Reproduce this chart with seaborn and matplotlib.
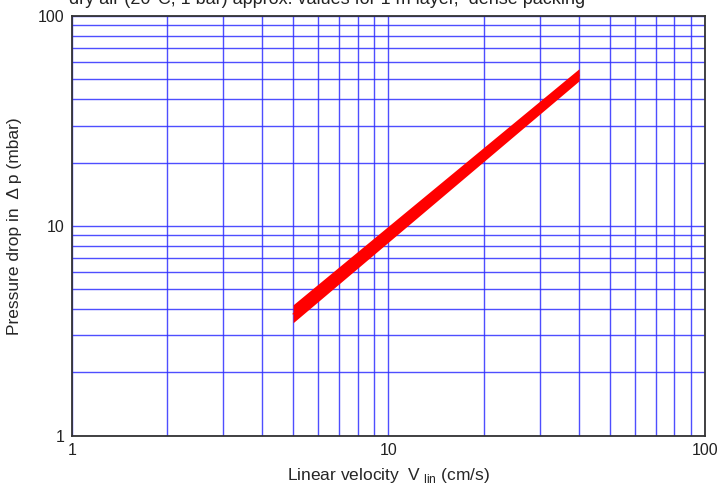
import numpy as np
import matplotlib
matplotlib.use("Agg")
import matplotlib.pyplot as plt
from matplotlib.ticker import LogLocator, NullFormatter, FixedLocator, FixedFormatter
import seaborn as sns

# Pressure drop band
velocity = [5, 40]
dp_upper = [4.2, 56]
dp_lower = [3.45, 49]
dp_center = [3.8, 52]

x_ticks = [1, 10, 100]
x_labels = ["1", "10", "100"]
y_ticks = [1, 10, 100]
y_labels = ["1", "10", "100"]

sns.set_style("white")
plt.rcParams["font.family"] = ["Liberation Sans", "DejaVu Sans"]

fig = plt.figure(figsize=(7.18, 4.95), dpi=100)
ax = fig.add_axes([0.1, 0.12, 0.882, 0.848])

ax.set_xscale("log")
ax.set_yscale("log")
ax.set_xlim(1, 100)
ax.set_ylim(1, 100)

grid_color = "#2f2fff"
ax.xaxis.set_major_locator(FixedLocator(x_ticks))
ax.yaxis.set_major_locator(FixedLocator(y_ticks))
ax.xaxis.set_major_formatter(FixedFormatter(x_labels))
ax.yaxis.set_major_formatter(FixedFormatter(y_labels))
ax.xaxis.set_minor_locator(LogLocator(base=10, subs=np.arange(2, 10)))
ax.yaxis.set_minor_locator(LogLocator(base=10, subs=np.arange(2, 10)))
ax.xaxis.set_minor_formatter(NullFormatter())
ax.yaxis.set_minor_formatter(NullFormatter())
ax.grid(True, which="both", color=grid_color, linewidth=1.0, alpha=0.85)
ax.tick_params(which="both", length=0, labelsize=11.5, colors="#222222", pad=5)

ax.fill_between(velocity, dp_lower, dp_upper, color="#ff0000", linewidth=0, zorder=3)
sns.lineplot(x=velocity, y=dp_center, color="#ff0000", linewidth=1, ax=ax, zorder=3)

for s in ax.spines.values():
    s.set_color("#333333")
    s.set_linewidth(1.3)
    s.set_zorder(4)

ax.set_xlabel(r"Linear velocity  V$_{\ \mathregular{lin}}$ (cm/s)", fontsize=12.5, labelpad=6)
ax.set_ylabel("Pressure drop in  \u0394 p (mbar)", fontsize=12.5, labelpad=12)

fig.text(0.455, 1 - 4.5 / 495, "dry air (20\u00b0C, 1 bar) approx. values for 1 m layer,  dense packing",
         ha="center", va="baseline", fontsize=13, color="#222222")

fig.savefig("out.png", dpi=100)
